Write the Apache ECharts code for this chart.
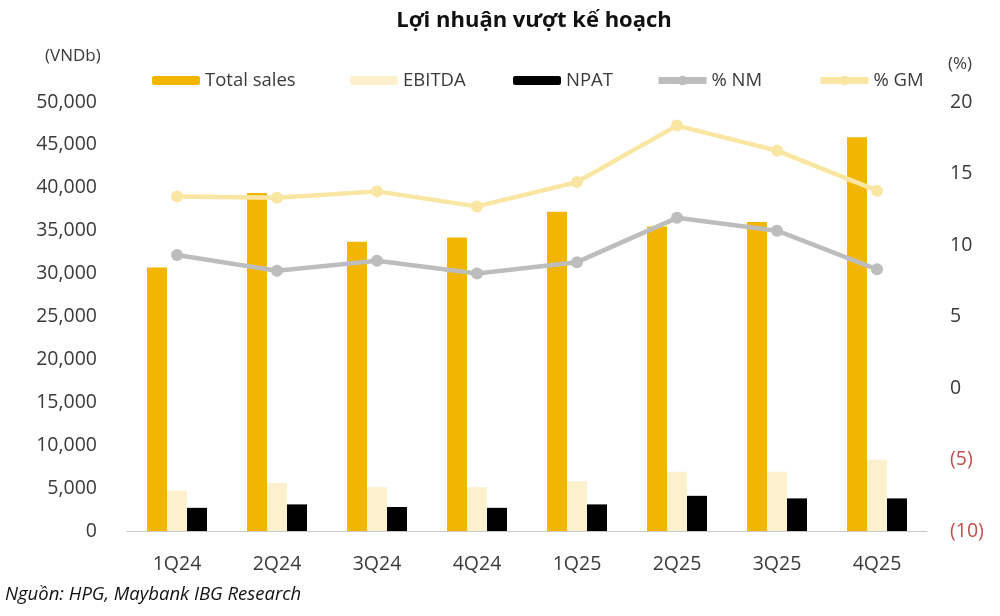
<!DOCTYPE html>
<html>
<head>
<meta charset="utf-8">
<script src="https://cdn.jsdelivr.net/npm/echarts@6/dist/echarts.min.js"></script>
<style>
html,body{margin:0;padding:0;background:#fff;}
#chart{width:1000px;height:616px;}
</style>
</head>
<body>
<div id="chart"></div>
<script>
var categories = ['1Q24','2Q24','3Q24','4Q24','1Q25','2Q25','3Q25','4Q25'];
var totalSales = [30700, 39400, 33700, 34200, 37200, 35500, 36000, 45900];
var ebitda = [4700, 5600, 5100, 5100, 5800, 6900, 6900, 8300];
var npat = [2700, 3100, 2800, 2700, 3100, 4100, 3800, 3800];
var nm = [9.3, 8.2, 8.9, 8.0, 8.8, 11.9, 11.0, 8.3];
var gm = [13.4, 13.3, 13.75, 12.7, 14.4, 18.35, 16.6, 13.8];
var titleText = 'Lợi nhuận vượt kế hoạch';
var sourceText = 'Nguồn: HPG, Maybank IBG Research';

var FONT = '"Open Sans", "Noto Sans", sans-serif';
var TXT = '#3a3a3a';
var cSales = '#F2B600', cEbitda = '#FCF0CD', cNpat = '#000000', cNm = '#BDBDBD', cGm = '#F8E6A2';

function legendAt(name, left, isLine) {
  var l = {
    data: [name], left: left, top: 66, itemWidth: 48, itemHeight: 9, itemGap: 8,
    textStyle: {fontFamily: FONT, fontSize: 18.5, color: TXT}
  };
  if (isLine) { l.itemHeight = 12; l.lineStyle = {width: 7}; }
  return l;
}

var chart = echarts.init(document.getElementById('chart'));
chart.setOption({
  animation: false,
  backgroundColor: '#fff',
  title: {
    text: titleText, left: 529, textAlign: 'center', top: 5,
    textStyle: {fontFamily: FONT, fontSize: 22, fontWeight: 'bold', color: '#111'}
  },
  legend: [
    legendAt('Total sales', 147),
    legendAt('EBITDA', 345),
    legendAt('NPAT', 508),
    legendAt('% NM', 650, true),
    legendAt('% GM', 812, true)
  ],
  graphic: [
    {type: 'text', left: 45, top: 48, style: {text: '(VNDb)', font: '17px ' + FONT, fill: TXT}},
    {type: 'text', left: 948, top: 56, style: {text: '(%)', font: '17px ' + FONT, fill: TXT}},
    {type: 'text', left: 5, top: 585, style: {text: sourceText, font: 'italic 18.5px ' + FONT, fill: '#111'}}
  ],
  grid: {left: 127, right: 73, top: 102, bottom: 85, containLabel: false},
  xAxis: {
    type: 'category', data: categories,
    axisLine: {lineStyle: {color: '#C8C8C8', width: 1}},
    axisTick: {show: false},
    axisLabel: {fontFamily: FONT, fontSize: 19.5, color: TXT, margin: 23}
  },
  yAxis: [
    {
      type: 'value', min: 0, max: 50000, interval: 5000,
      splitLine: {show: false}, axisLine: {show: false}, axisTick: {show: false},
      axisLabel: {
        fontFamily: FONT, fontSize: 19.5, color: TXT, margin: 30,
        formatter: function (v) { return v.toLocaleString('en-US'); }
      }
    },
    {
      type: 'value', min: -10, max: 20, interval: 5,
      splitLine: {show: false}, axisLine: {show: false}, axisTick: {show: false},
      axisLabel: {
        fontFamily: FONT, fontSize: 19.5, margin: 23,
        color: function (v) { return Number(v) < 0 ? '#C0504D' : TXT; },
        formatter: function (v) { return v < 0 ? '(' + (-v) + ')' : String(v); }
      }
    }
  ],
  series: [
    {name: 'Total sales', type: 'bar', data: totalSales, barWidth: 20, barGap: '0%', itemStyle: {color: cSales}},
    {name: 'EBITDA', type: 'bar', data: ebitda, barWidth: 20, barGap: '0%', itemStyle: {color: cEbitda}},
    {name: 'NPAT', type: 'bar', data: npat, barWidth: 20, barGap: '0%', itemStyle: {color: cNpat}},
    {name: '% NM', type: 'line', yAxisIndex: 1, data: nm, symbol: 'circle', symbolSize: 12,
      lineStyle: {color: cNm, width: 4.5}, itemStyle: {color: cNm}, z: 5},
    {name: '% GM', type: 'line', yAxisIndex: 1, data: gm, symbol: 'circle', symbolSize: 12,
      lineStyle: {color: cGm, width: 4.5}, itemStyle: {color: cGm}, z: 5}
  ]
});
</script>
</body>
</html>
